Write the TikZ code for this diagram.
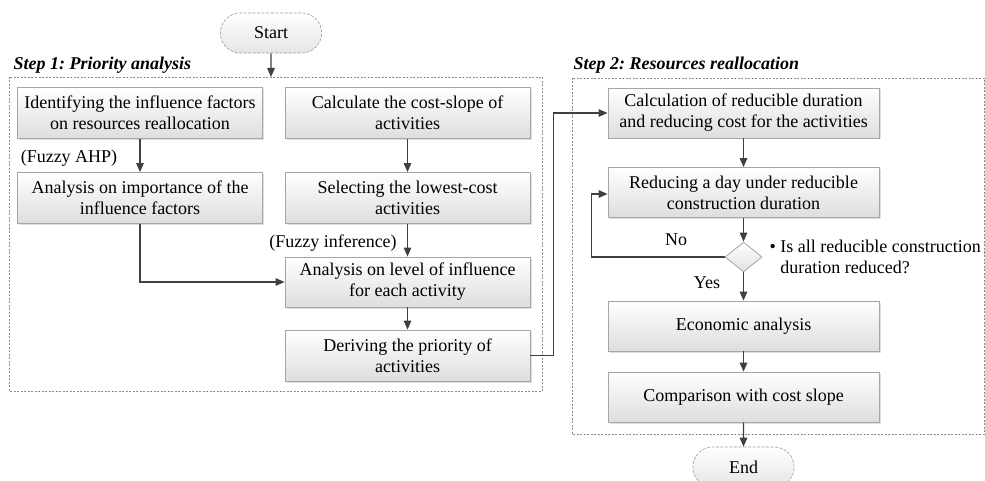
\documentclass[tikz,border=0pt]{standalone}
\usepackage{fontspec}
\setmainfont{Liberation Serif}
\usetikzlibrary{arrows.meta,shapes.geometric,shapes.misc,shadows}
\frenchspacing

\begin{document}
\begin{tikzpicture}[x=1pt,y=-1pt,
        font=\fontsize{18}{21}\selectfont,
        linha/.style={draw=black!75,line width=1.3pt},
        seta/.style={linha,-{Triangle[length=9pt,width=7.5pt]}},
        caixa/.style={draw=black!35,line width=0.8pt,top color=white,bottom color=black!13,
            drop shadow={shadow xshift=1.5pt,shadow yshift=-1.5pt,fill=black!25},
            align=center,inner sep=0pt},
        terminal/.style={rounded rectangle,draw=black!40,dash pattern=on 3pt off 1.5pt,
            line width=0.6pt,top color=white,bottom color=black!10,
            minimum width=108pt,minimum height=40pt},
        moldura/.style={draw=black!45,dash pattern=on 2pt off 1.5pt,line width=0.7pt},
        titulo/.style={font=\fontsize{18}{21}\selectfont\bfseries\itshape,anchor=west}]
        \useasboundingbox (0,0) rectangle (985,481);

        % molduras dos passos
        \draw[moldura] (9,77) rectangle (542,391);
        \draw[moldura] (572,78) rectangle (984,434);
        \node[titulo] (passo1) at (10,65) {Step 1: Priority analysis};
        \node[titulo] (passo2) at (570,65) {Step 2: Resources reallocation};

        % inicio
        \node[terminal] (inicio) at (271,33) {Start};
        \coordinate (topo1) at (271,77);
        \draw[seta] (inicio) -- (topo1);

        % passo 1
        \node[caixa,minimum width=245pt,minimum height=51pt] (fatores) at (140,113)
            {Identifying the influence factors\\on resources reallocation};
        \node[caixa,minimum width=245pt,minimum height=51pt] (importancia) at (140,198)
            {Analysis on importance of the\\influence factors};
        \node[caixa,minimum width=245pt,minimum height=51pt] (custo) at (407.5,113)
            {Calculate the cost-slope of\\activities};
        \node[caixa,minimum width=245pt,minimum height=51pt] (menor) at (407.5,198)
            {Selecting the lowest-cost\\activities};
        \node[caixa,minimum width=245pt,minimum height=50pt] (nivel) at (407.5,282)
            {Analysis on level of influence\\for each activity};
        \node[caixa,minimum width=245pt,minimum height=51pt] (prioridade) at (407.5,355.5)
            {Deriving the priority of\\activities};
        \node (ahp) at (69,158) {(Fuzzy AHP)};
        \node (inferencia) at (333,243) {(Fuzzy inference)};

        \draw[seta] (fatores) -- (importancia);
        \draw[seta] (custo) -- (menor);
        \draw[seta] (menor) -- (nivel);
        \draw[seta] (importancia.south) |- (nivel.west);
        \draw[seta] (nivel) -- (prioridade);

        % passo 2
        \node[caixa,minimum width=271pt,minimum height=50pt] (reduzivel) at (743.5,113)
            {Calculation of reducible duration\\and reducing cost for the activities};
        \node[caixa,minimum width=271pt,minimum height=50pt] (reduzir) at (743.5,192.5)
            {Reducing a day under reducible\\construction duration};
        \node[diamond,aspect=1.2,draw=black!35,line width=0.8pt,top color=white,
            bottom color=black!12,minimum width=37pt,minimum height=30pt,inner sep=0pt]
            (teste) at (743.5,257) {};
        \node[anchor=west,align=left] (pergunta) at (766,257)
            {\textbullet\ Is all reducible construction\\\hphantom{\textbullet\ }duration reduced?};
        \node[caixa,minimum width=271pt,minimum height=50pt] (economica) at (743.5,326)
            {Economic analysis};
        \node[caixa,minimum width=271pt,minimum height=50pt] (comparacao) at (743.5,397)
            {Comparison with cost slope};
        \node (nao) at (676,240) {No};
        \node (sim) at (707,283) {Yes};

        \draw[seta] (prioridade.east) -- ++(23,0) |- (reduzivel.west);
        \draw[seta] (reduzivel) -- (reduzir);
        \draw[seta] (reduzir) -- (teste);
        \draw[seta] (teste.west) -- ++(-133,0) |- ([yshift=-1.5pt]reduzir.west);
        \draw[seta] (teste) -- (economica);
        \draw[seta] (economica) -- (comparacao);

        % fim
        \node[terminal] (fim) at (743.5,467) {End};
        \draw[seta] (comparacao) -- (fim);
    \end{tikzpicture}
\end{document}
